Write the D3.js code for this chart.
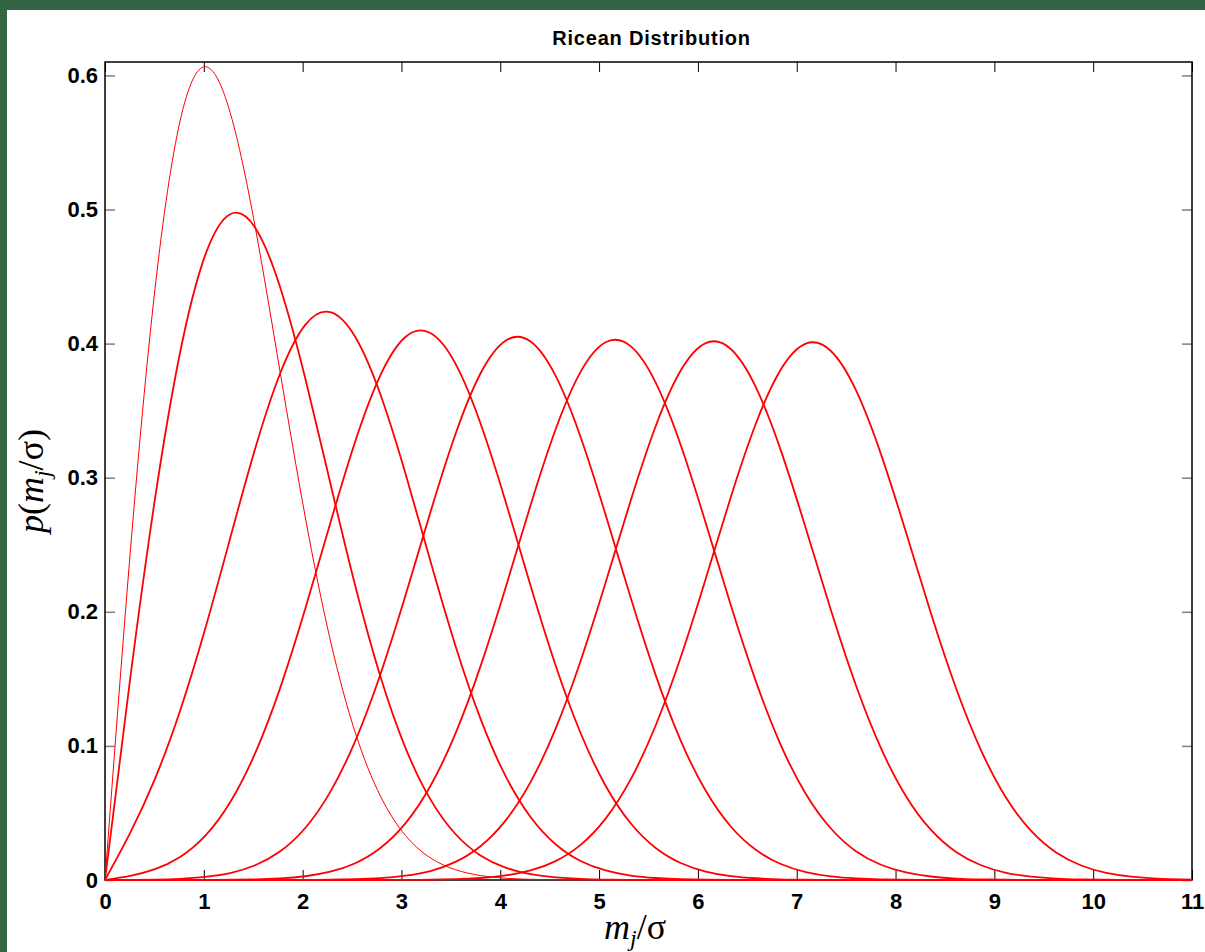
<!DOCTYPE html>
<html>
<head>
<meta charset="utf-8">
<script src="https://cdn.jsdelivr.net/npm/d3@7"></script>
<style>
  body { margin: 0; background: #fff; }
  text { font-family: "Liberation Sans", Arial, sans-serif; }
</style>
</head>
<body>
<div id="chart"></div>
<script>
// positions along m_j/sigma where the curves were read (every 0.2533)
const xs = d3.range(45).map(i => i * 0.2533)

// curve values, one array per nu = 0..7
const nu0 = [0, 0.2423, 0.4412, 0.5661, 0.6065, 0.5723, 0.4870, 0.3785, 0.2707, 0.1790, 0.1098, 0.0627,
  0.0333, 0.0165, 0.0077, 0.0033, 0.0013, 0.0005, 0.0002, 0.0001, 0, 0, 0, 0, 0, 0, 0, 0, 0, 0, 0, 0, 0,
  0, 0, 0, 0, 0, 0, 0, 0, 0, 0, 0, 0]
const nu1 = [0, 0.1493, 0.2846, 0.3934, 0.4658, 0.4965, 0.4864, 0.4419, 0.3742, 0.2961, 0.2192, 0.1519,
  0.0987, 0.0601, 0.0343, 0.0183, 0.0092, 0.0043, 0.0019, 0.0008, 0.0003, 0.0001, 0, 0, 0, 0, 0, 0, 0,
  0, 0, 0, 0, 0, 0, 0, 0, 0, 0, 0, 0, 0, 0, 0, 0]
const nu2 = [0, 0.0349, 0.0756, 0.1262, 0.1871, 0.2548, 0.3217, 0.3779, 0.4140, 0.4235, 0.4049, 0.3622,
  0.3033, 0.2378, 0.1747, 0.1203, 0.0776, 0.0470, 0.0267, 0.0142, 0.0071, 0.0033, 0.0015, 0.0006,
  0.0002, 0.0001, 0, 0, 0, 0, 0, 0, 0, 0, 0, 0, 0, 0, 0, 0, 0, 0, 0, 0, 0]
const nu3 = [0, 0.0031, 0.0081, 0.0172, 0.0329, 0.0580, 0.0946, 0.1433, 0.2022, 0.2661, 0.3272, 0.3763,
  0.4049, 0.4079, 0.3851, 0.3406, 0.2825, 0.2196, 0.1602, 0.1096, 0.0703, 0.0423, 0.0239, 0.0127,
  0.0063, 0.0029, 0.0013, 0.0005, 0.0002, 0.0001, 0, 0, 0, 0, 0, 0, 0, 0, 0, 0, 0, 0, 0, 0, 0]
const nu4 = [0, 0.0001, 0.0003, 0.0009, 0.0023, 0.0052, 0.0110, 0.0214, 0.0388, 0.0657, 0.1038, 0.1533,
  0.2119, 0.2742, 0.3324, 0.3777, 0.4022, 0.4016, 0.3761, 0.3304, 0.2723, 0.2106, 0.1528, 0.1040,
  0.0665, 0.0399, 0.0225, 0.0119, 0.0059, 0.0027, 0.0012, 0.0005, 0.0002, 0.0001, 0, 0, 0, 0, 0, 0, 0,
  0, 0, 0, 0]
const nu5 = [0, 0, 0, 0, 0.0001, 0.0002, 0.0005, 0.0012, 0.0028, 0.0062, 0.0125, 0.0238, 0.0422, 0.0701,
  0.1092, 0.1593, 0.2178, 0.2793, 0.3359, 0.3789, 0.4010, 0.3981, 0.3709, 0.3244, 0.2662, 0.2050, 0.1483,
  0.1006, 0.0641, 0.0384, 0.0215, 0.0114, 0.0056, 0.0026, 0.0011, 0.0005, 0.0002, 0.0001, 0, 0, 0, 0, 0,
  0, 0]
const nu6 = [0, 0, 0, 0, 0, 0, 0, 0, 0.0001, 0.0002, 0.0006, 0.0014, 0.0032, 0.0067, 0.0135, 0.0252,
  0.0443, 0.0730, 0.1127, 0.1633, 0.2218, 0.2828, 0.3384, 0.3799, 0.4004, 0.3960, 0.3676, 0.3204, 0.2621,
  0.2014, 0.1452, 0.0983, 0.0625, 0.0373, 0.0209, 0.0110, 0.0054, 0.0025, 0.0011, 0.0005, 0.0002, 0.0001,
  0, 0, 0]
const nu7 = [0, 0, 0, 0, 0, 0, 0, 0, 0, 0, 0, 0, 0.0001, 0.0002, 0.0006, 0.0015, 0.0034, 0.0071, 0.0141,
  0.0262, 0.0458, 0.0750, 0.1152, 0.1661, 0.2247, 0.2854, 0.3402, 0.3807, 0.4000, 0.3945, 0.3653, 0.3176,
  0.2593, 0.1987, 0.1430, 0.0967, 0.0613, 0.0366, 0.0205, 0.0108, 0.0053, 0.0025, 0.0011, 0.0004, 0.0002]

const series = [nu0, nu1, nu2, nu3, nu4, nu5, nu6, nu7]

const xTicks = d3.range(0, 12)
const yTicks = [0, 0.1, 0.2, 0.3, 0.4, 0.5, 0.6]

const width = 1205, height = 952
const plot = {left: 105, right: 1192, top: 62, bottom: 880}

const svg = d3.select("#chart").append("svg")
  .attr("width", width)
  .attr("height", height)

// dark green window edge at top and left
svg.append("rect").attr("x", 0).attr("y", 0).attr("width", width).attr("height", 10).attr("fill", "#346444")
svg.append("rect").attr("x", 0).attr("y", 0).attr("width", 7).attr("height", height).attr("fill", "#346444")

const xScale = d3.scaleLinear().domain([0, 11]).range([plot.left, plot.right])
const yScale = d3.scaleLinear().domain([0, 0.61]).range([plot.bottom, plot.top])

// ticks point inward on all four sides
svg.append("g")
  .attr("transform", "translate(0," + plot.bottom + ")")
  .call(d3.axisBottom(xScale).tickValues(xTicks).tickSizeInner(-10).tickSizeOuter(0).tickPadding(13)
    .tickFormat(d3.format("d")))
  .call(g => g.select(".domain").remove())
  .call(g => g.selectAll("line").attr("stroke", "#000"))
  .call(g => g.selectAll("text").attr("font-size", 22).attr("font-weight", "bold").attr("fill", "#000"))

svg.append("g")
  .attr("transform", "translate(0," + plot.top + ")")
  .call(d3.axisTop(xScale).tickValues(xTicks).tickSizeInner(-10).tickSizeOuter(0).tickFormat(""))
  .call(g => g.select(".domain").remove())
  .call(g => g.selectAll("line").attr("stroke", "#000"))

svg.append("g")
  .attr("transform", "translate(" + plot.left + ",0)")
  .call(d3.axisLeft(yScale).tickValues(yTicks).tickSizeInner(-10).tickSizeOuter(0).tickPadding(7)
    .tickFormat(d => d === 0 ? "0" : d3.format(".1f")(d)))
  .call(g => g.select(".domain").remove())
  .call(g => g.selectAll("line").attr("stroke", "#808080").attr("stroke-width", 1.5))
  .call(g => g.selectAll("text").attr("font-size", 22).attr("font-weight", "bold").attr("fill", "#000"))

svg.append("g")
  .attr("transform", "translate(" + plot.right + ",0)")
  .call(d3.axisRight(yScale).tickValues(yTicks).tickSizeInner(-10).tickSizeOuter(0).tickFormat(""))
  .call(g => g.select(".domain").remove())
  .call(g => g.selectAll("line").attr("stroke", "#808080").attr("stroke-width", 1.5))

// frame
svg.append("rect")
  .attr("x", plot.left).attr("y", plot.top)
  .attr("width", plot.right - plot.left).attr("height", plot.bottom - plot.top)
  .attr("fill", "none").attr("stroke", "#000").attr("stroke-width", 1.5)

svg.append("clipPath").attr("id", "clip")
  .append("rect")
  .attr("x", plot.left).attr("y", plot.top - 2)
  .attr("width", plot.right - plot.left).attr("height", plot.bottom - plot.top + 4)

const line = d3.line()
  .x((d, i) => xScale(xs[i]))
  .y(d => yScale(d))
  .curve(d3.curveNatural)

svg.append("g").attr("clip-path", "url(#clip)")
  .selectAll("path")
  .data(series)
  .join("path")
  .attr("d", line)
  .attr("fill", "none")
  .attr("stroke", "#ff0000")
  .attr("stroke-width", (d, i) => i === 0 ? 1 : 1.8)

// title
svg.append("text")
  .attr("x", (plot.left + plot.right) / 2 + 3)
  .attr("y", 45)
  .attr("text-anchor", "middle")
  .attr("font-size", 20)
  .attr("letter-spacing", 0.8)
  .attr("font-weight", "bold")
  .text("Ricean Distribution")

// axis labels in serif italic
const serif = "'Liberation Serif', 'Times New Roman', serif"
const xLabel = svg.append("text")
  .attr("x", 604)
  .attr("y", 939)
  .style("font-family", serif)
  .attr("font-size", 36)
xLabel.append("tspan").attr("font-style", "italic").text("m")
xLabel.append("tspan").attr("font-style", "italic").attr("font-size", 24).attr("dy", 7).text("j")
xLabel.append("tspan").attr("dy", -7).text("/σ")

const yLabel = svg.append("text")
  .attr("transform", "translate(43,481) rotate(-90)")
  .attr("text-anchor", "middle")
  .style("font-family", serif)
  .attr("font-size", 36)
yLabel.append("tspan").attr("font-style", "italic").text("p")
yLabel.append("tspan").text("(")
yLabel.append("tspan").attr("font-style", "italic").text("m")
yLabel.append("tspan").attr("font-style", "italic").attr("font-size", 24).attr("dy", 7).text("j")
yLabel.append("tspan").attr("dy", -7).text("/σ)")
</script>
</body>
</html>
